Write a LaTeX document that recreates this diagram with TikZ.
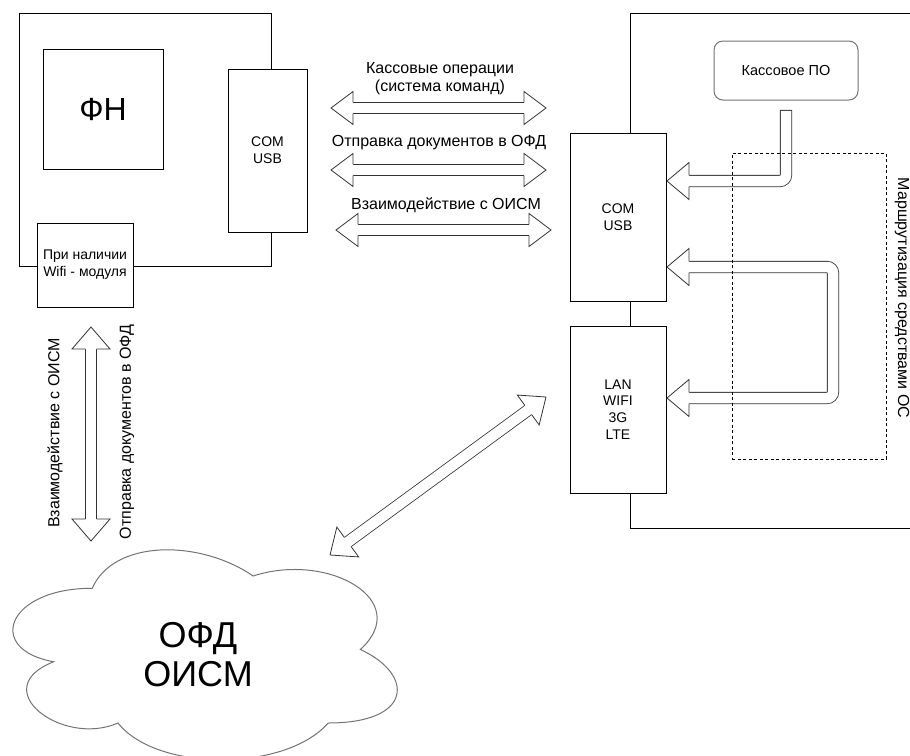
\documentclass[tikz,border=0pt]{standalone}
\usepackage{fontspec}
\setmainfont{Liberation Sans}

% hollow arrow head: tip, direction, half width
\newcommand{\openhead}[3]{%
  \filldraw[fill=white, draw=black!80, line width=0.8pt, shift={(#1)}, rotate=#2]
    (-22,5.65) -- (-22,#3) -- (0,0) -- (-22,-#3) -- (-22,-5.65);
}

\begin{document}
\begin{tikzpicture}[x=1pt, y=-1pt,
  every node/.style={font=\fontsize{14}{16.8}\selectfont, align=center},
  lbl/.style={font=\fontsize{16}{18}\selectfont},
  box/.style={draw, rectangle, fill=white, line width=1pt, inner sep=0pt},
  zone/.style={draw, rectangle, line width=1pt, dash pattern=on 3pt off 2.5pt, inner sep=0pt},
  pipe/.style={draw=black!80, line width=0.8pt, double=white, double distance=10.5pt, line cap=rect},
  twoway/.style={shorten <=22pt, shorten >=22pt}]

\useasboundingbox (0,0) rectangle (910,755);

% cash register
\node[box, minimum width=252pt, minimum height=253pt] (kkt) at (145,139.5) {};
\node[box, minimum width=120pt, minimum height=120pt, font=\fontsize{32}{38}\selectfont] (fn) at (103,109) {ФН};
\node[box, minimum width=79pt, minimum height=163pt] (comL) at (267.5,150.5) {COM\\USB};
\node[box, minimum width=96pt, minimum height=84pt] (wifi) at (85,265) {При наличии\\Wifi - модуля};

% host computer
\draw[line width=1pt] (910,13) -| (630,528) -- (910,528);
\node[box, draw=black!55, rounded corners=9pt, minimum width=144pt, minimum height=59pt, font=\fontsize{14.5}{17}\selectfont] (po) at (786,70.5) {Кассовое ПО};
\node[box, minimum width=96pt, minimum height=168pt] (comR) at (618,217) {COM\\USB};
\node[box, minimum width=96pt, minimum height=167pt] (lan) at (618,409.5) {LAN\\WIFI\\3G\\LTE};

% exchange between register and computer
\coordinate (k1l) at (331,108); \coordinate (k1r) at (546,108);
\coordinate (k2l) at (331,170); \coordinate (k2r) at (546,170);
\coordinate (k3l) at (336,230); \coordinate (k3r) at (551,230);
\node[lbl] (t1) at (440,79) {Кассовые операции\\(система команд)};
\node[lbl] (t2) at (439,143) {Отправка документов в ОФД};
\node[lbl] (t3) at (446,205) {Взаимодействие с ОИСМ};
\draw[pipe, twoway] (k1l) -- (k1r);
\draw[pipe, twoway] (k2l) -- (k2r);
\draw[pipe, twoway] (k3l) -- (k3r);
\openhead{k1l}{180}{16.5} \openhead{k1r}{0}{16.5}
\openhead{k2l}{180}{16.5} \openhead{k2r}{0}{16.5}
\openhead{k3l}{180}{16.5} \openhead{k3r}{0}{16.5}

% wifi module straight to the servers
\coordinate (w1) at (91,327); \coordinate (w2) at (91,541);
\node[lbl, rotate=90] (t4) at (55,433) {Взаимодействие с ОИСМ};
\node[lbl, rotate=90] (t5) at (127,432) {Отправка документов в ОФД};
\draw[pipe, twoway] (w1) -- (w2);
\openhead{w1}{90}{19} \openhead{w2}{270}{19}

% routing inside the computer
\coordinate (po-out) at (786,116); \coordinate (po-in) at (667,181);
\draw[pipe, rounded corners=6pt, shorten >=22pt] (po-out) |- (po-in);
\openhead{po-in}{180}{18.5}
\coordinate (u1) at (667,267); \coordinate (u2) at (667,398);
\draw[pipe, rounded corners=6pt, twoway] (u1) -- ++(166,0) |- (u2);
\openhead{u1}{180}{18.5} \openhead{u2}{180}{18.5}

% network link
\coordinate (n1) at (546,397); \coordinate (n2) at (330,555);
\draw[pipe, twoway] (n1) -- (n2);
\openhead{n1}{36.2}{18.5} \openhead{n2}{216.2}{18.5}

\node[zone, minimum width=154pt, minimum height=306pt] (os) at (809,306) {};
\node[lbl, rotate=-90] (osl) at (902,298) {Маршрутизация средствами ОС};

% servers
\begin{scope}[shift={(-15,527)}, x=429pt, y=-245pt]
\draw[black!55, line width=1pt] (0.25,0.25) .. controls (0.05,0.25) and (0,0.5) .. (0.16,0.55)
  .. controls (0,0.66) and (0.18,0.9) .. (0.31,0.8)
  .. controls (0.4,1) and (0.7,1) .. (0.8,0.8)
  .. controls (1,0.8) and (1,0.6) .. (0.875,0.5)
  .. controls (1,0.3) and (0.8,0.1) .. (0.625,0.2)
  .. controls (0.5,0.05) and (0.3,0.05) .. (0.25,0.25) -- cycle;
\end{scope}
\node[font=\fontsize{36}{39}\selectfont] (cloud) at (198,655) {ОФД\\ОИСМ};
\end{tikzpicture}
\end{document}
